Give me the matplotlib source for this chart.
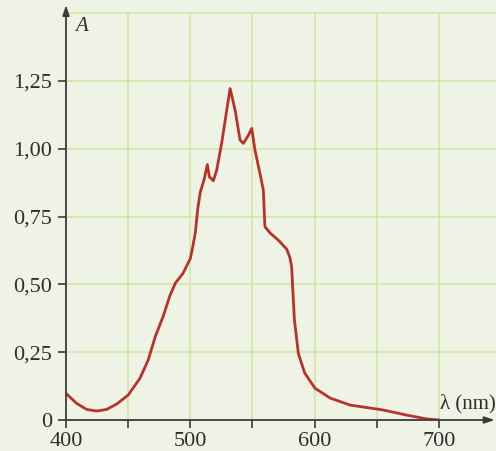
import matplotlib
matplotlib.use("Agg")
import matplotlib.pyplot as plt

# Data
wavelength = [400, 408.6, 416.6, 424.7, 432.7, 440.8, 450, 459.5, 466, 472, 478, 483.7, 488, 494,
              500, 502, 504, 506, 508, 511, 513.7, 515.3, 518.5, 521.2, 525.2, 529.3, 532,
              536, 540, 542.7, 546.7, 549.4, 552, 556, 558.7, 560, 564, 570.8, 577.5,
              580, 581.5, 582.3, 583.7, 586.9, 592, 600.3, 612.4, 628.5, 655, 674, 690, 700]
absorbance = [0.098, 0.061, 0.039, 0.033, 0.039, 0.059, 0.092, 0.154, 0.22, 0.31, 0.38, 0.46, 0.505, 0.54,
              0.595, 0.64, 0.69, 0.78, 0.84, 0.885, 0.942, 0.897, 0.882, 0.921, 1.02, 1.143, 1.222,
              1.143, 1.032, 1.02, 1.05, 1.075, 0.995, 0.909, 0.848, 0.713, 0.69, 0.663, 0.63,
              0.60, 0.565, 0.49, 0.37, 0.245, 0.173, 0.117, 0.081, 0.055, 0.037, 0.018, 0.004, 0.0]

x_ticks = [400, 500, 600, 700]
x_tick_labels = ["400", "500", "600", "700"]
x_minor = [450, 550, 650]
y_ticks = [0, 0.25, 0.5, 0.75, 1.0, 1.25]
y_tick_labels = ["0", "0,25", "0,50", "0,75", "1,00", "1,25"]
grid_x = [450, 500, 550, 600, 650, 700]
grid_y = [0.25, 0.5, 0.75, 1.0, 1.25, 1.5]

bg = "#eff3e6"
grid_c = "#d0e49c"
curve_c = "#b8322a"
axis_c = "#3a3a3a"

plt.rcParams["font.family"] = ["Liberation Serif", "DejaVu Serif"]

fig = plt.figure(figsize=(4.96, 4.51), dpi=100, facecolor=bg)
xmax = 400 + 430 / 1.2433
ax = fig.add_axes([66 / 496, 31 / 451, 430 / 496, 415 / 451])
ax.set_facecolor(bg)
ax.set_xlim(400, xmax)
ax.set_ylim(0, 1.53)
for s in ax.spines.values():
    s.set_visible(False)

ax.vlines(grid_x, 0, 1.5, color=grid_c, lw=1.1, zorder=1)
ax.hlines(grid_y, 400, xmax, color=grid_c, lw=1.1, zorder=1)

ax.plot(wavelength, absorbance, color=curve_c, lw=2.0, zorder=3, solid_joinstyle="round")

# axes with arrows
ax.annotate("", xy=(400, 1.53), xytext=(400, 0), annotation_clip=False,
            arrowprops=dict(arrowstyle="-|>,head_length=0.6,head_width=0.2", color=axis_c, lw=1.3,
                            shrinkA=0, shrinkB=0), zorder=4)
ax.annotate("", xy=(xmax - 1, 0), xytext=(400, 0), annotation_clip=False,
            arrowprops=dict(arrowstyle="-|>,head_length=0.6,head_width=0.2", color=axis_c, lw=1.3,
                            shrinkA=0, shrinkB=0), zorder=4)

ax.set_xticks(x_ticks)
ax.set_xticklabels(x_tick_labels)
ax.set_xticks(x_minor, minor=True)
ax.set_yticks(y_ticks)
ax.set_yticklabels(y_tick_labels)
ax.tick_params(axis="both", which="both", direction="out", length=6, width=1.2,
               color=axis_c, labelcolor="#2e2e2e", labelsize=16)
ax.tick_params(axis="y", pad=4)
ax.tick_params(axis="x", pad=3)

ax.text(407, 1.452, "A", fontsize=15, style="italic", color="#2e2e2e", ha="left", va="center")
ax.text(xmax - 0.3, 0.06, "λ (nm)", fontsize=15, color="#2e2e2e", ha="right", va="center")

fig.savefig("out.png", dpi=100, facecolor=bg)
